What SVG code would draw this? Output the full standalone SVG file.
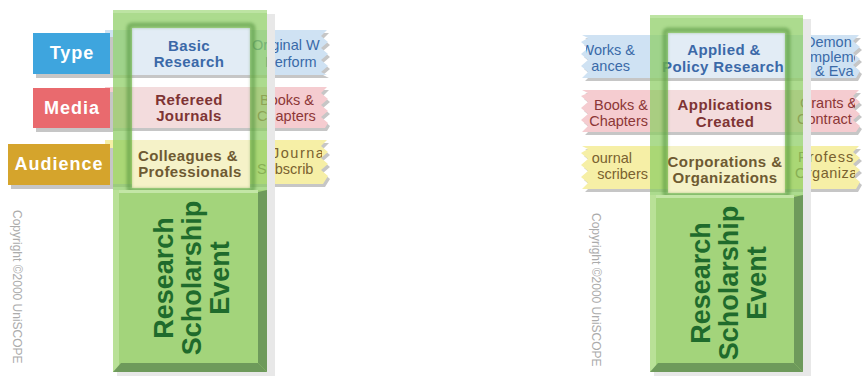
<svg xmlns="http://www.w3.org/2000/svg" width="862" height="377" viewBox="0 0 862 377">
<defs>
<style>
text{font-family:"Liberation Sans",Arial,sans-serif}
.cell{font-weight:bold;font-size:15px;text-anchor:middle;letter-spacing:.4px}
.part{font-size:14.5px}
.lab{font-weight:bold;font-size:18px;fill:#fff;text-anchor:middle;letter-spacing:1px}
.title{font-weight:bold;font-size:27px;fill:#1f6b2c;text-anchor:middle}
.copy{font-size:12px;fill:#ababab}
.tb{fill:#3b69a8}.tr{fill:#7e3434}.ty{fill:#6e5a32}
.pb{fill:#3a6aa8}.pr{fill:#8c3636}.py{fill:#7a6230}
.bb{fill:#cfe2f3}.br{fill:#f5ccd0}.by{fill:#f6efa6}
.wb{fill:#e2ecf5}.wr{fill:#f3dcdd}.wy{fill:#f5f2c8}
.sh{fill:#c6c6c6}
.frame{fill:#8ccd63;opacity:.72}
.inner{fill:none;stroke:#4a8a35;stroke-width:5;opacity:.5}
.box{fill:#a3d47b}
.dark{fill:#6e9a5b}
.lite{fill:#e8e8e8}
</style>
<filter id="blur" x="-10%" y="-10%" width="120%" height="120%"><feGaussianBlur stdDeviation="1.4"/></filter>
<clipPath id="cL"><rect x="240" y="0" width="82" height="200"/></clipPath>
<clipPath id="cRL"><rect x="586" y="0" width="80" height="200"/></clipPath>
<clipPath id="cRR"><rect x="780" y="0" width="75" height="200"/></clipPath>
</defs>

<!-- LEFT PANEL -->
<g id="left-panel">
  <g id="left-bands">
    <path class="sh" d="M107,33 H329 L323,39 L330,45 L323,51 L330,57 L323,63 L330,69 L323,75 L329,78 H107 Z"/>
    <path class="bb" d="M105,30 H327 L321,36 L328,42 L321,48 L328,54 L321,60 L328,66 L321,72 L327,75 H105 Z"/>
    <path class="sh" d="M107,90 H329 L323,96 L330,102 L323,108 L330,114 L323,120 L330,126 L327,131 H107 Z"/>
    <path class="br" d="M105,87 H327 L321,93 L328,99 L321,105 L328,111 L321,117 L328,123 L325,128 H105 Z"/>
    <path class="sh" d="M107,143 H329 L323,149 L330,155 L323,161 L330,167 L323,173 L330,179 L325,187 H107 Z"/>
    <path class="by" d="M105,140 H327 L321,146 L328,152 L321,158 L328,164 L321,170 L328,176 L323,184 H105 Z"/>
  </g>
  <g clip-path="url(#cL)">
    <text class="part pb" x="252" y="50" font-size="14">Original W</text>
    <text class="part pb" x="265" y="67" font-size="14">Perform</text>
    <text class="part pr" x="260" y="105">Books &amp;</text>
    <text class="part pr" x="257" y="121">Chapters</text>
    <text class="part py" x="272" y="158" letter-spacing="1.5">Journa</text>
    <text class="part py" x="257" y="174">Subscrib</text>
  </g>
  <g id="left-window">
    <rect class="wb" x="132" y="28" width="118" height="47"/>
    <rect class="wr" x="132" y="87" width="118" height="41"/>
    <rect class="wy" x="132" y="140" width="118" height="48"/>
    <text class="cell tb" x="189" y="51">Basic</text>
    <text class="cell tb" x="189" y="67">Research</text>
    <text class="cell tr" x="189" y="105">Refereed</text>
    <text class="cell tr" x="189" y="121">Journals</text>
    <text class="cell ty" x="188" y="161">Colleagues &amp;</text>
    <text class="cell ty" x="190" y="177">Professionals</text>
  </g>
  <g id="left-frame">
    <rect class="lite" x="267" y="14" width="8" height="362"/>
    <rect class="lite" x="117" y="372" width="158" height="4"/>
    <path class="frame" fill-rule="evenodd" d="M113,10 H267 V194 H113 Z M132,28 V188 H250 V28 Z"/>
    <rect class="inner" x="129" y="25" width="124" height="166" rx="3" filter="url(#blur)"/>
    <rect x="113" y="10" width="154" height="3" fill="#c5e8ad" opacity=".7"/>
  </g>
  <g id="left-box">
    <rect class="box" x="113" y="190" width="154" height="182"/>
    <rect x="113" y="190" width="6" height="182" fill="#b9e197"/>
    <rect x="119" y="190" width="139" height="3" fill="#c3e6a6"/>
    <polygon class="dark" points="258,192 267,190 267,372 258,363"/>
    <polygon class="dark" points="113,372 121,363 258,363 267,372"/>
    <g transform="translate(0,278) rotate(-90)">
      <text class="title" x="0" y="173">Research</text>
      <text class="title" x="0" y="201">Scholarship</text>
      <text class="title" x="0" y="229">Event</text>
    </g>
  </g>
  <g id="left-labels">
    <rect class="sh" x="36" y="37" width="77" height="41"/>
    <rect x="33" y="33" width="77" height="41" fill="#3ea5de"/>
    <text class="lab" x="72" y="59">Type</text>
    <rect class="sh" x="36" y="92" width="77" height="40"/>
    <rect x="33" y="88" width="77" height="40" fill="#e96a6e"/>
    <text class="lab" x="72" y="114">Media</text>
    <rect class="sh" x="11" y="148" width="102" height="41"/>
    <rect x="8" y="144" width="102" height="41" fill="#d5a42c"/>
    <text class="lab" x="59" y="170">Audience</text>
  </g>
  <text class="copy" transform="translate(13,210) rotate(90)">Copyright ©2000 UniSCOPE</text>
</g>

<!-- RIGHT PANEL -->
<g id="right-panel">
  <g id="right-bands">
    <path class="sh" d="M585,38 H800 V81 H585 L591,75 L584,69 L591,63 L584,57 L591,51 L584,45 L591,41 Z"/>
    <path class="bb" d="M582,35 H800 V78 H582 L588,72 L581,66 L588,60 L581,54 L588,48 L581,42 L588,38 Z"/>
    <path class="sh" d="M585,93 H800 V135 H585 L591,129 L584,123 L591,117 L584,111 L591,105 L584,99 L591,96 Z"/>
    <path class="br" d="M582,90 H800 V132 H582 L588,126 L581,120 L588,114 L581,108 L588,102 L581,96 L588,93 Z"/>
    <path class="sh" d="M585,149 H800 V192 H585 L591,186 L584,180 L591,174 L584,168 L591,162 L584,156 L591,152 Z"/>
    <path class="by" d="M582,146 H800 V189 H582 L588,183 L581,177 L588,171 L581,165 L588,159 L581,153 L588,149 Z"/>
    <path class="sh" d="M792,38 H861 L855,44 L862,50 L855,56 L862,62 L855,68 L862,74 L858,81 H792 Z"/>
    <path class="bb" d="M790,35 H859 L853,41 L860,47 L853,53 L860,59 L853,65 L860,71 L856,78 H790 Z"/>
    <path class="sh" d="M792,93 H861 L855,99 L862,105 L855,111 L862,117 L855,123 L862,129 L858,135 H792 Z"/>
    <path class="br" d="M790,90 H859 L853,96 L860,102 L853,108 L860,114 L853,120 L860,126 L856,132 H790 Z"/>
    <path class="sh" d="M792,149 H861 L855,155 L862,161 L855,167 L862,173 L855,179 L862,185 L858,192 H792 Z"/>
    <path class="by" d="M790,146 H859 L853,152 L860,158 L853,164 L860,170 L853,176 L860,182 L856,189 H790 Z"/>
  </g>
  <g clip-path="url(#cRL)">
    <text class="part pb" x="635" y="55" text-anchor="end">Works &amp;</text>
    <text class="part pb" x="630" y="71" text-anchor="end">ances</text>
    <text class="part pr" x="648" y="110" text-anchor="end">Books &amp;</text>
    <text class="part pr" x="648" y="126" text-anchor="end">Chapters</text>
    <text class="part py" x="632" y="163" text-anchor="end">ournal</text>
    <text class="part py" x="648" y="179" text-anchor="end">scribers</text>
  </g>
  <g clip-path="url(#cRR)">
    <text class="part pb" x="805" y="47" font-size="11">Demon</text>
    <text class="part pb" x="806" y="61.5" font-size="11">Impleme</text>
    <text class="part pb" x="815" y="76" font-size="11">&amp; Eva</text>
    <text class="part pr" x="800" y="108">Grants &amp;</text>
    <text class="part pr" x="797" y="124">Contract</text>
    <text class="part py" x="798" y="162" letter-spacing="1">Profess</text>
    <text class="part py" x="795" y="178" letter-spacing=".5">Organiza</text>
  </g>
  <g id="right-window">
    <rect class="wb" x="668" y="33" width="117" height="45"/>
    <rect class="wr" x="668" y="90" width="117" height="42"/>
    <rect class="wy" x="668" y="146" width="117" height="47"/>
    <text class="cell tb" x="724" y="55" letter-spacing="0">Applied &amp;</text>
    <text class="cell tb" x="723" y="72" letter-spacing="0">Policy Research</text>
    <text class="cell tr" x="725" y="110" letter-spacing="0">Applications</text>
    <text class="cell tr" x="725" y="127" letter-spacing="0">Created</text>
    <text class="cell ty" x="725" y="167" letter-spacing="0">Corporations &amp;</text>
    <text class="cell ty" x="725" y="183" letter-spacing="0">Organizations</text>
  </g>
  <g id="right-frame">
    <rect class="lite" x="803" y="19" width="8" height="357"/>
    <rect class="lite" x="654" y="372" width="157" height="4"/>
    <path class="frame" fill-rule="evenodd" d="M650,15 H803 V198 H650 Z M668,33 V193 H785 V33 Z"/>
    <rect class="inner" x="665" y="30" width="123" height="166" rx="3" filter="url(#blur)"/>
    <rect x="650" y="15" width="153" height="3" fill="#c5e8ad" opacity=".7"/>
  </g>
  <g id="right-box">
    <rect class="box" x="650" y="195" width="153" height="177"/>
    <rect x="650" y="195" width="6" height="177" fill="#b9e197"/>
    <rect x="656" y="195" width="138" height="3" fill="#c3e6a6"/>
    <polygon class="dark" points="794,197 803,195 803,372 794,363"/>
    <polygon class="dark" points="650,372 658,363 794,363 803,372"/>
    <g transform="translate(0,283) rotate(-90)">
      <text class="title" x="0" y="710">Research</text>
      <text class="title" x="0" y="738">Scholarship</text>
      <text class="title" x="0" y="766">Event</text>
    </g>
  </g>
  <text class="copy" transform="translate(592,213) rotate(90)">Copyright ©2000 UniSCOPE</text>
</g>
</svg>
